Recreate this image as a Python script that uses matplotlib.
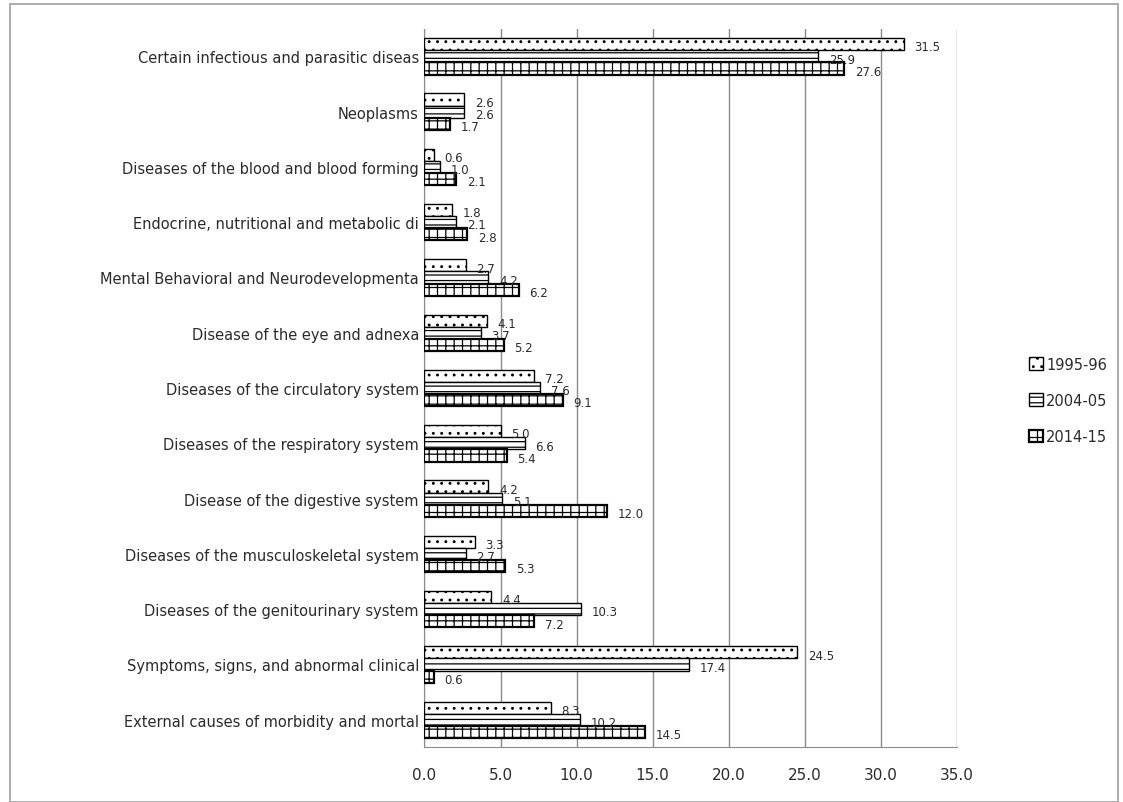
import matplotlib
matplotlib.use('Agg')
import matplotlib.pyplot as plt
import numpy as np
from matplotlib.patches import Rectangle

categorias = ['Certain infectious and parasitic diseas',
              'Neoplasms',
              'Diseases of the blood and blood forming',
              'Endocrine, nutritional and metabolic di',
              'Mental Behavioral and Neurodevelopmenta',
              'Disease of the eye and adnexa',
              'Diseases of the circulatory system',
              'Diseases of the respiratory system',
              'Disease of the digestive system',
              'Diseases of the musculoskeletal system',
              'Diseases of the genitourinary system',
              'Symptoms, signs, and abnormal clinical',
              'External causes of morbidity and mortal']

periodos = ['1995-96', '2004-05', '2014-15']
v1995 = [31.5, 2.6, 0.6, 1.8, 2.7, 4.1, 7.2, 5.0, 4.2, 3.3, 4.4, 24.5, 8.3]
v2004 = [25.9, 2.6, 1.0, 2.1, 4.2, 3.7, 7.6, 6.6, 5.1, 2.7, 10.3, 17.4, 10.2]
v2014 = [27.6, 1.7, 2.1, 2.8, 6.2, 5.2, 9.1, 5.4, 12.0, 5.3, 7.2, 0.6, 14.5]

xticks = [0, 5, 10, 15, 20, 25, 30, 35]

plt.rcParams['font.family'] = 'DejaVu Sans'
plt.rcParams['hatch.linewidth'] = 0.9
cor_texto = '#2b2b2b'

fig = plt.figure(figsize=(11.23, 8.03), dpi=100)
ax = fig.add_axes([0.378, 0.068, 0.474, 0.895])

y = np.arange(len(categorias))
h = 0.22
series = [v1995, v2004, v2014]
hatches = ['..', '---', '++']
lws = [1.0, 1.0, 1.6]

for i, (vals, lab) in enumerate(zip(series, periodos)):
    pos = y + (i - 1) * h
    ax.barh(pos, vals, height=h, color='white', edgecolor='black',
            hatch=hatches[i], linewidth=lws[i], label=lab, zorder=3)
    for p, v in zip(pos, vals):
        ax.text(v + 0.7, p + 0.05, '%.1f' % v, va='center', ha='left',
                fontsize=8.5, color=cor_texto, zorder=4)

ax.set_xlim(0, 35)
ax.set_ylim(len(categorias) - 0.5, -0.5)
ax.set_xticks(xticks)
ax.set_xticklabels(['%.1f' % t for t in xticks], fontsize=11, color=cor_texto)
ax.set_yticks(y)
ax.set_yticklabels(categorias, fontsize=10.5, color=cor_texto)
ax.tick_params(length=0, pad=4)
ax.tick_params(axis='x', pad=14)
ax.grid(axis='x', color='#8c8c8c', linewidth=1, zorder=0)
for s in ['top', 'right']:
    ax.spines[s].set_visible(False)
for s in ['left', 'bottom']:
    ax.spines[s].set_color('#8c8c8c')

ax.legend(loc='center left', bbox_to_anchor=(1.125, 0.483), frameon=False,
          fontsize=10.5, handlelength=0.95, handleheight=0.95, handletextpad=0.2,
          labelspacing=1.45, labelcolor=cor_texto, borderaxespad=0)

fig.patches.append(Rectangle((10 / 1123, 0), 1108 / 1123, 1 - 5 / 803,
                             transform=fig.transFigure, fill=False,
                             edgecolor='#a0a0a0', linewidth=1.2))

fig.savefig('out.png', dpi=100)
